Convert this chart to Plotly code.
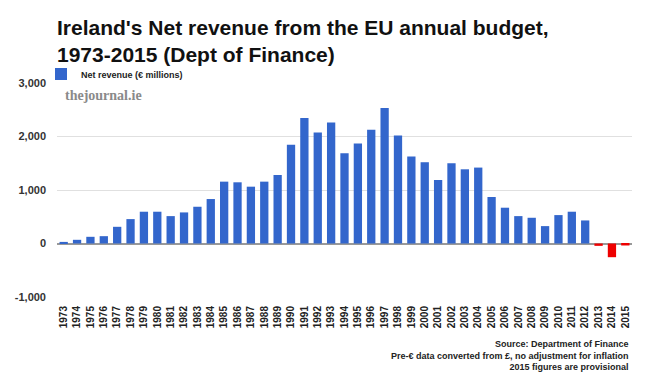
import plotly.graph_objects as go

years = [str(y) for y in range(1973, 2016)]
net_revenue = [
    30, 69, 125, 137, 312, 456, 594, 594, 512, 581,
    687, 831, 1156, 1144, 1062, 1156, 1281, 1844, 2344, 2075,
    2262, 1687, 1869, 2125, 2531, 2019, 1625, 1519, 1187, 1500,
    1387, 1419, 869, 669, 512, 481, 325, 531, 594, 431,
    -44, -256, -37,
]
y_ticks = [-1000, 0, 1000, 2000, 3000]
y_tick_labels = ["-1,000", "0", "1,000", "2,000", "3,000"]

BLUE = "#3366CC"
RED = "#EE0000"
colors = [BLUE if v >= 0 else RED for v in net_revenue]

FONT = "Liberation Sans, Arial, sans-serif"

fig = go.Figure(
    go.Bar(
        x=years,
        y=net_revenue,
        marker=dict(color=colors, line=dict(width=0)),
        name="Net revenue (€ millions)",
        showlegend=True,
        width=0.62,
    )
)

fig.update_layout(
    width=650,
    height=391,
    paper_bgcolor="white",
    plot_bgcolor="white",
    margin=dict(l=57, r=18, t=83, b=94, autoexpand=False),
    font=dict(family=FONT, color="#222"),
    title=dict(
        text="Ireland's Net revenue from the EU annual budget,<br>1973-2015 (Dept of Finance)",
        x=57 / 650,
        xanchor="left",
        y=1 - 35 / 391,
        yanchor="top",
        font=dict(family=FONT, size=21, color="#111", weight="bold"),
    ),
    legend=dict(
        x=-16 / 575,
        xanchor="left",
        y=1 + 9 / 214,
        yanchor="middle",
        orientation="h",
        font=dict(family=FONT, size=9, color="#222", weight="bold"),
        itemwidth=30,
        bgcolor="rgba(0,0,0,0)",
    ),
    bargap=0.38,
)

fig.update_xaxes(
    type="category",
    tickangle=-90,
    tickfont=dict(family=FONT, size=10, color="#222", weight="bold"),
    showgrid=False,
    ticks="",
    showline=False,
    zeroline=False,
    ticklabelstandoff=6,
)
fig.update_yaxes(
    range=[-1000, 3000],
    tickvals=y_ticks,
    ticktext=y_tick_labels,
    tickfont=dict(family=FONT, size=11, color="#333", weight="bold"),
    showgrid=True,
    gridcolor="#E0E0E0",
    gridwidth=1,
    zeroline=True,
    zerolinecolor="#999",
    zerolinewidth=1.5,
    ticks="",
    ticklabelstandoff=10,
)

fig.add_annotation(
    text="thejournal.ie",
    xref="paper", yref="paper",
    x=6 / 575, y=1 - 13 / 214,
    xanchor="left", yanchor="middle",
    showarrow=False,
    font=dict(family="Liberation Serif, serif", size=14, color="#8a8a8a", weight="bold"),
)

fig.add_annotation(
    text="Source: Department of Finance<br>Pre-€ data converted from £, no adjustment for inflation<br>2015 figures are provisional",
    xref="paper", yref="paper",
    x=1 - 1 / 575, y=1 - (337 - 83) / 214,
    xanchor="right", yanchor="top",
    align="right",
    showarrow=False,
    font=dict(family=FONT, size=9, color="#222", weight="bold"),
)

fig.write_html(
    "out.html",
    config={"displayModeBar": False},
    post_script="document.body.style.margin='0';",
)
